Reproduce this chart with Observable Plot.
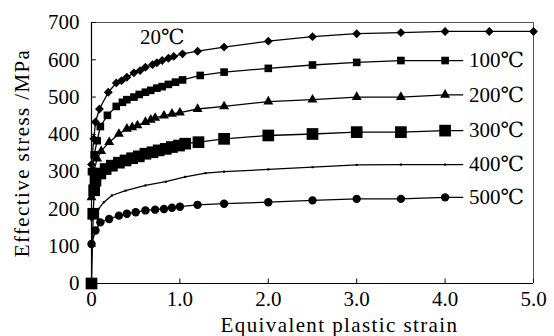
<!DOCTYPE html>
<html>
<head>
<meta charset="utf-8">
<script src="https://cdn.jsdelivr.net/npm/d3@7"></script>
<script src="https://cdn.jsdelivr.net/npm/@observablehq/plot@0.6"></script>
<style>
html,body{margin:0;padding:0;background:#fff;}
svg, svg text { font-family: "Liberation Serif", "Times New Roman", "DejaVu Serif", serif !important; }
</style>
</head>
<body>
<div id="chart"></div>
<script>
const seriesNames = ["20℃", "100℃", "200℃", "300℃", "400℃", "500℃"];

const strain20 = [0, 0.026, 0.045, 0.09, 0.19, 0.28, 0.34, 0.40, 0.48, 0.55, 0.61, 0.69, 0.74, 0.80, 0.87, 0.93, 1.03, 1.2, 1.5, 2.0, 2.5, 3.0, 3.5, 4.0, 4.5, 5.0];
const stress20 = [319, 388, 433, 468, 513, 538, 544, 553, 565, 571, 580, 587, 592, 598, 604, 609, 616, 623, 634, 650, 662, 670, 673, 676, 676, 676];

const strain100 = [0, 0.03, 0.064, 0.10, 0.18, 0.28, 0.35, 0.40, 0.48, 0.54, 0.61, 0.67, 0.74, 0.80, 0.87, 0.95, 1.03, 1.23, 1.5, 2.0, 2.5, 3.0, 3.5, 4.0];
const stress100 = [300, 345, 383, 421, 451, 475, 486, 493, 500, 507, 513, 518, 524, 528, 534, 540, 546, 558, 567, 577, 586, 593, 598, 598];

const strain200 = [0, 0.026, 0.064, 0.11, 0.20, 0.31, 0.40, 0.46, 0.52, 0.61, 0.67, 0.72, 0.82, 0.91, 1.0, 1.2, 1.5, 2.0, 2.5, 3.0, 3.5, 4.0];
const stress200 = [231, 300, 335, 355, 379, 401, 415, 419, 424, 433, 439, 444, 450, 455, 458, 468, 475, 488, 493, 500, 500, 506];

const strain300 = [0, 0.02, 0.03, 0.045, 0.1, 0.16, 0.23, 0.31, 0.385, 0.46, 0.535, 0.61, 0.69, 0.76, 0.84, 0.91, 0.99, 1.06, 1.21, 1.5, 2.0, 2.5, 3.0, 3.5, 4.0];
const stress300 = [0, 187, 250, 276, 295, 307, 316, 324, 330, 336, 341, 348, 352, 357, 361, 366, 370, 375, 379, 388, 397, 401, 406, 406, 410];

const strain400 = [0, 0.04, 0.08, 0.14, 0.23, 0.385, 0.61, 0.84, 1.06, 1.29, 1.5, 2.0, 2.5, 3.0, 3.5, 4.0];
const stress400 = [170, 185, 200, 218, 236, 249, 263, 273, 286, 296, 300, 306, 312, 318, 319, 319];

const strain500 = [0, 0.045, 0.10, 0.2, 0.31, 0.40, 0.5, 0.61, 0.72, 0.82, 0.91, 1.0, 1.2, 1.5, 2.0, 2.5, 3.0, 3.5, 4.0];
const stress500 = [106, 142, 164, 173, 182, 187, 191, 196, 198, 200, 203, 206, 211, 214, 218, 223, 227, 227, 231];

const xTicks = [0, 1, 2, 3, 4, 5];
const xTickLabels = ["0", "1.0", "2.0", "3.0", "4.0", "5.0"];
const yTicks = [0, 100, 200, 300, 400, 500, 600, 700];
const yTickLabels = ["0", "100", "200", "300", "400", "500", "600", "700"];

const xTitle = "Equivalent plastic strain";
const yTitle = "Effective stress /MPa";

// label anchor positions (data units)
const labelStrain = [0.8, 4.27, 4.27, 4.27, 4.27, 4.27];
const labelStress = [660, 598, 506, 410, 319, 231];
const leaderEnd = [null, 4.2, 4.2, 4.2, 4.2, 4.2];

const strains = [strain20, strain100, strain200, strain300, strain400, strain500];
const stresses = [stress20, stress100, stress200, stress300, stress400, stress500];
const symbols = ["diamond2", "square", "triangle", "square", "square", "circle"];
const radii = [4.0, 4.3, 3.7, 6.6, 1.2, 4.2];

const rows = [];
seriesNames.forEach((s, k) => {
  strains[k].forEach((x, i) => rows.push({series: s, k, x, y: stresses[k][i]}));
});
const leaders = [];
seriesNames.forEach((s, k) => {
  if (leaderEnd[k] == null) return;
  const xs = strains[k], ys = stresses[k];
  leaders.push({series: s, x: xs[xs.length - 1], y: ys[ys.length - 1]});
  leaders.push({series: s, x: leaderEnd[k], y: ys[ys.length - 1]});
});
const labels = seriesNames.map((s, k) => ({text: s, x: labelStrain[k], y: labelStress[k], anchor: k === 0 ? "middle" : "start"}));

const font = "Liberation Serif, Times New Roman, DejaVu Serif, serif";

const marks = [
  Plot.ruleY([700], {stroke: "#555", strokeWidth: 1}),
  Plot.ruleX([5], {stroke: "#555", strokeWidth: 1}),
  Plot.ruleX([0], {stroke: "black", strokeWidth: 1.2}),
  Plot.ruleY([0], {stroke: "black", strokeWidth: 1.2}),
  Plot.ruleY(yTicks, {y: d => d, x1: 0, x2: 0.055, stroke: "black"}),
  Plot.ruleX(xTicks, {x: d => d, y1: 0, y2: 12, stroke: "black"}),
  Plot.axisX({ticks: xTicks, tickSize: 0, tickPadding: 8, tickFormat: d => xTickLabels[xTicks.indexOf(d)], label: null, fontSize: 21}),
  Plot.axisY({ticks: yTicks, tickSize: 0, tickPadding: 12, tickFormat: d => yTickLabels[yTicks.indexOf(d)], label: null, fontSize: 21}),
  Plot.line(rows, {x: "x", y: "y", z: "series", stroke: "black", strokeWidth: 1.3}),
  Plot.line(leaders, {x: "x", y: "y", z: "series", stroke: "black", strokeWidth: 1.3}),
];
seriesNames.forEach((s, k) => {
  marks.push(Plot.dot(rows.filter(d => d.k === k), {x: "x", y: "y", symbol: () => symbols[k], r: radii[k], fill: "black", stroke: "none"}));
});
marks.push(
  Plot.text(labels.filter(d => d.anchor === "start"), {x: "x", y: "y", text: "text", textAnchor: "start", fontSize: 21, fill: "black"}),
  Plot.text(labels.filter(d => d.anchor === "middle"), {x: "x", y: "y", text: "text", textAnchor: "middle", fontSize: 21, fill: "black"}),
  Plot.text([xTitle], {frameAnchor: "bottom", textAnchor: "middle", lineAnchor: "middle", dx: 27, dy: 42, text: d => d, fontSize: 21, fill: "black"}),
  Plot.text([yTitle], {frameAnchor: "left", textAnchor: "middle", lineAnchor: "middle", dx: -69, rotate: -90, text: d => d, fontSize: 21, fill: "black"})
);

const chart = Plot.plot({
  width: 554,
  height: 336,
  marginLeft: 91,
  marginRight: 21,
  marginTop: 22,
  marginBottom: 53,
  x: {domain: [0, 5]},
  y: {domain: [0, 700]},
  symbol: {type: "identity"},
  style: {fontFamily: font, fontSize: "21px", background: "white", color: "black", overflow: "visible"},
  marks
});
chart.setAttribute("font-family", font);
d3.select(chart).selectAll("text")
  .filter(function() { return this.textContent === xTitle || this.textContent === yTitle; })
  .style("letter-spacing", "1.4px");
document.getElementById("chart").appendChild(chart);
</script>
</body>
</html>
